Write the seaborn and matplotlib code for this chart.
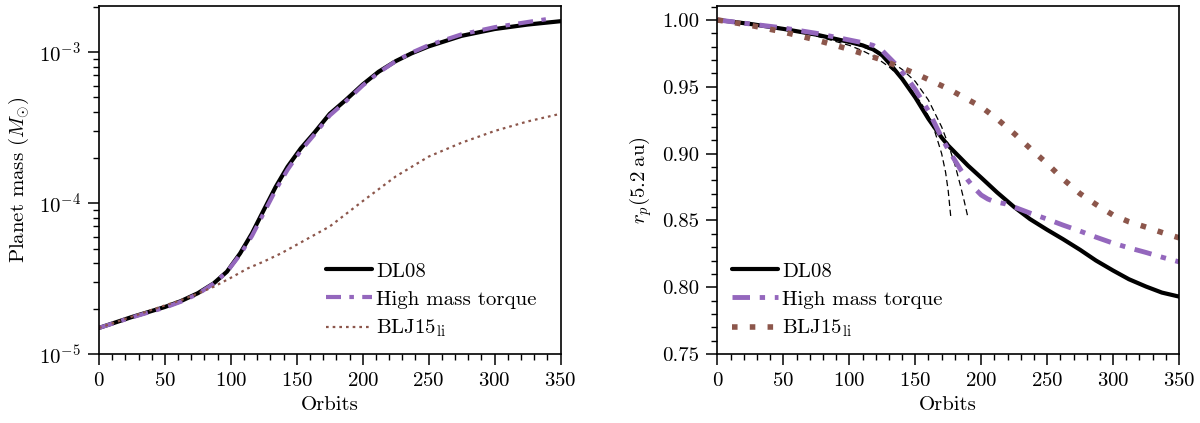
import numpy as np
import pandas as pd
import matplotlib
matplotlib.use("Agg")
import matplotlib.pyplot as plt
from matplotlib.ticker import MultipleLocator
import seaborn as sns

sns.set_style("ticks")
plt.rcParams["font.family"] = ["cmr10", "DejaVu Serif"]
plt.rcParams["mathtext.fontset"] = "cm"
plt.rcParams["axes.formatter.use_mathtext"] = True
plt.rcParams["axes.unicode_minus"] = False
plt.rcParams["font.size"] = 15
plt.rcParams["axes.edgecolor"] = "black"
plt.rcParams["text.color"] = "black"
plt.rcParams["axes.labelcolor"] = "black"
plt.rcParams["xtick.color"] = "black"
plt.rcParams["ytick.color"] = "black"

# left panel: planet mass vs orbits
orb_dl08_m = [0, 25, 50, 62, 75, 87, 97, 107, 116, 125, 134, 143, 153, 163, 175, 187,
              200, 212, 225, 237, 250, 275, 300, 325, 350]
mass_dl08 = [1.49e-5, 1.76e-5, 2.05e-5, 2.24e-5, 2.53e-5, 2.94e-5, 3.51e-5, 4.64e-5,
             6.3e-5, 9.0e-5, 1.28e-4, 1.74e-4, 2.3e-4, 2.9e-4, 3.9e-4, 4.8e-4,
             6.1e-4, 7.4e-4, 8.7e-4, 9.8e-4, 1.09e-3, 1.28e-3, 1.42e-3, 1.52e-3, 1.6e-3]
orb_hmt_m = [0, 25, 50, 62, 75, 87, 97, 107, 116, 125, 134, 143, 153, 163, 175, 187,
             200, 212, 225, 237, 250, 275, 300, 325, 345]
mass_hmt = [1.49e-5, 1.75e-5, 2.03e-5, 2.22e-5, 2.5e-5, 2.93e-5, 3.5e-5, 4.55e-5,
            6.05e-5, 8.6e-5, 1.22e-4, 1.66e-4, 2.22e-4, 2.82e-4, 3.8e-4, 4.7e-4,
            6.0e-4, 7.3e-4, 8.7e-4, 9.9e-4, 1.11e-3, 1.31e-3, 1.46e-3, 1.58e-3, 1.68e-3]
orb_blj_m = [0, 25, 50, 62, 75, 87, 100, 113, 125, 138, 150, 175, 200, 225, 250, 275,
             300, 325, 350]
mass_blj = [1.49e-5, 1.77e-5, 2.1e-5, 2.27e-5, 2.52e-5, 2.79e-5, 3.2e-5, 3.7e-5,
            4.1e-5, 4.64e-5, 5.3e-5, 7.0e-5, 1.03e-4, 1.5e-4, 2.03e-4, 2.51e-4,
            3.0e-4, 3.47e-4, 3.9e-4]

# right panel: orbital radius vs orbits
orb_dl08_r = [0, 25, 50, 75, 100, 110, 118, 125, 130, 135, 140, 145, 150, 155, 160,
              165, 170, 175, 180, 190, 200, 212, 225, 237, 250, 262, 275, 287, 300,
              312, 325, 337, 350]
rp_dl08 = [1.0, 0.997, 0.9933, 0.989, 0.9835, 0.981, 0.978, 0.9735, 0.968, 0.962,
           0.956, 0.949, 0.942, 0.934, 0.926, 0.919, 0.912, 0.906, 0.901, 0.891,
           0.882, 0.871, 0.860, 0.851, 0.843, 0.836, 0.828, 0.820, 0.8125, 0.806,
           0.8005, 0.796, 0.793]
orb_hmt_r = [0, 25, 50, 75, 100, 110, 118, 125, 130, 135, 140, 145, 150, 155, 160,
             165, 170, 175, 180, 185, 190, 195, 200, 205, 210, 218, 225, 237, 250,
             262, 275, 287, 300, 312, 325, 337, 350]
rp_hmt = [1.0, 0.997, 0.994, 0.990, 0.985, 0.983, 0.981, 0.977, 0.972, 0.967, 0.961,
          0.955, 0.948, 0.940, 0.932, 0.922, 0.912, 0.903, 0.895, 0.887, 0.880, 0.874,
          0.869, 0.866, 0.864, 0.8625, 0.860, 0.8555, 0.851, 0.8465, 0.842, 0.8375,
          0.833, 0.8295, 0.826, 0.8225, 0.819]
orb_blj_r = [0, 25, 50, 75, 100, 125, 150, 175, 200, 212, 225, 237, 250, 262, 275,
             287, 300, 312, 325, 337, 350]
rp_blj = [1.0, 0.996, 0.991, 0.985, 0.978, 0.970, 0.960, 0.9485, 0.935, 0.926, 0.915,
          0.904, 0.8925, 0.881, 0.870, 0.862, 0.854, 0.849, 0.845, 0.841, 0.837]

# thin dashed analytic estimates
orb_fit1 = [0, 25, 50, 75, 100, 110, 120, 130, 140, 150, 155, 160, 165, 170, 173, 175, 177]
rp_fit1 = [1.0, 0.997, 0.993, 0.988, 0.981, 0.977, 0.972, 0.965, 0.956, 0.944, 0.937,
           0.928, 0.916, 0.900, 0.886, 0.872, 0.852]
orb_fit2 = [0, 25, 50, 75, 100, 110, 120, 130, 140, 150, 160, 170, 175, 180, 184, 187, 190]
rp_fit2 = [1.0, 0.997, 0.994, 0.989, 0.983, 0.980, 0.976, 0.970, 0.963, 0.954, 0.940,
           0.920, 0.907, 0.892, 0.877, 0.865, 0.852]

labels = ["DL08", "High mass torque", r"BLJ15$_{\mathrm{li}}$"]
c_hmt = "#9467bd"
c_blj = "#8c564b"
dashdot = (0, (3.6, 2.0, 1.1, 2.0))

fig, (ax1, ax2) = plt.subplots(1, 2, figsize=(12, 4.23), dpi=100)
fig.subplots_adjust(left=0.0825, right=0.9825, bottom=0.163, top=0.986, wspace=0.34)

sns.lineplot(x=orb_dl08_m, y=mass_dl08, ax=ax1, color="black", lw=3, label=labels[0])
sns.lineplot(x=orb_hmt_m, y=mass_hmt, ax=ax1, color=c_hmt, lw=3,
             linestyle=dashdot, label=labels[1])
sns.lineplot(x=orb_blj_m, y=mass_blj, ax=ax1, color=c_blj, lw=1.6,
             linestyle=(0, (1.2, 1.8)), label=labels[2])
ax1.set_yscale("log")
ax1.set_ylim(1e-5, 2.02e-3)
ax1.set_ylabel(r"Planet mass ($M_{\odot}$)", labelpad=6)

sns.lineplot(x=orb_fit1, y=rp_fit1, ax=ax2, color="black", lw=0.9,
             linestyle=(0, (5, 3)))
sns.lineplot(x=orb_fit2, y=rp_fit2, ax=ax2, color="black", lw=0.9,
             linestyle=(0, (5, 3)))
sns.lineplot(x=orb_dl08_r, y=rp_dl08, ax=ax2, color="black", lw=3, label=labels[0])
sns.lineplot(x=orb_hmt_r, y=rp_hmt, ax=ax2, color=c_hmt, lw=3.5,
             linestyle=dashdot, label=labels[1])
sns.lineplot(x=orb_blj_r, y=rp_blj, ax=ax2, color=c_blj, lw=4,
             linestyle=(0, (1, 2.2)), label=labels[2])
ax2.set_ylim(0.75, 1.0105)
ax2.yaxis.set_major_locator(MultipleLocator(0.05))
ax2.yaxis.set_minor_locator(MultipleLocator(0.01))
ax2.yaxis.set_major_formatter(matplotlib.ticker.FormatStrFormatter("%.2f"))
ax2.set_ylabel(r"$r_p(5.2\;\mathrm{au})$", labelpad=6)

for ax in (ax1, ax2):
    ax.set_xlim(0, 350)
    ax.xaxis.set_major_locator(MultipleLocator(50))
    ax.xaxis.set_minor_locator(MultipleLocator(10))
    ax.set_xlabel("Orbits", labelpad=4)
    ax.tick_params(which="major", direction="out", length=8, width=1.1, pad=5)
    ax.tick_params(which="minor", direction="out", length=4, width=1.0)
    for s in ax.spines.values():
        s.set_linewidth(1.2)

ax1.legend(loc="lower right", frameon=False, handlelength=2.2, handletextpad=0.2,
           labelspacing=0.45, borderaxespad=0.3, bbox_to_anchor=(0.98, 0.0))
ax2.legend(loc="lower left", frameon=False, handlelength=2.2, handletextpad=0.2,
           labelspacing=0.45, borderaxespad=0.3)

fig.savefig("out.png", dpi=100)
